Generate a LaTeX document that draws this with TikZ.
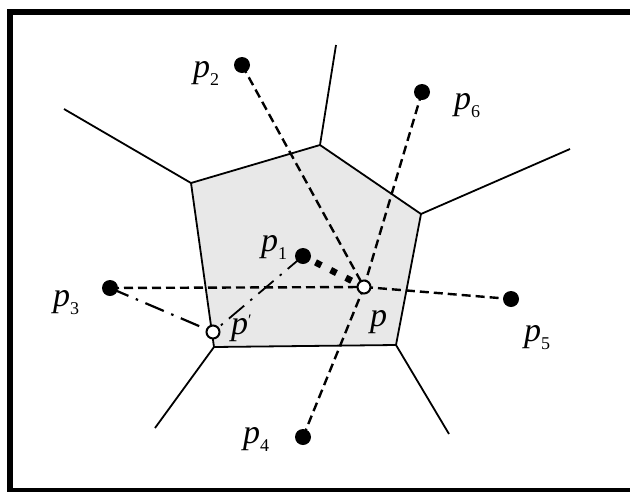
\documentclass[tikz,border=0pt]{standalone}
\usepackage{fontspec}
\setmainfont{Liberation Serif}
\newcommand\psub[1]{\raisebox{-8pt}{\fontsize{18}{18}\selectfont #1}}
\begin{document}
\begin{tikzpicture}[x=1pt,y=-1pt,
  vedge/.style={line width=1.8pt},
  dsh/.style={line width=2.4pt, dash pattern=on 9pt off 5pt},
  dshdot/.style={line width=2.2pt, dash pattern=on 20pt off 8pt on 2.5pt off 8pt},
  dotline/.style={line width=6.5pt, dash pattern=on 6.5pt off 10.5pt, dash phase=-14pt},
  site/.style={circle, fill=black, minimum size=16pt, inner sep=0pt},
  hollow/.style={circle, draw=black, fill=white, line width=2pt, minimum size=13pt, inner sep=0pt},
  lab/.style={anchor=base west, inner sep=0pt, font=\fontsize{34}{34}\selectfont}]
\useasboundingbox (0,0) rectangle (630,491);
\fill[white] (0,0) rectangle (630,491);
% frame
\draw[line width=6pt] (10,12) rectangle (640,491);
% Voronoi vertices and ray ends
\coordinate (v1) at (320,145);
\coordinate (v2) at (421,214);
\coordinate (v3) at (396,345);
\coordinate (v4) at (214,347);
\coordinate (v5) at (191,183);
\coordinate (r1) at (336,45);
\coordinate (r2) at (570,149);
\coordinate (r3) at (449,434);
\coordinate (r4) at (155,428);
\coordinate (r5) at (64,109);
% sites
\coordinate (P2) at (242,65);
\coordinate (P6) at (422,92);
\coordinate (P1) at (303,256);
\coordinate (P) at (364,287);
\coordinate (P3) at (110,288);
\coordinate (P5) at (511,299);
\coordinate (PP) at (213,332);
\coordinate (P4) at (303,437);
% cell
\fill[black!9] (v1) -- (v2) -- (v3) -- (v4) -- (v5) -- cycle;
\draw[vedge, line join=miter] (v1) -- (v2) -- (v3) -- (v4) -- (v5) -- cycle;
\draw[vedge] (v1) -- (r1);
\draw[vedge] (v2) -- (r2);
\draw[vedge] (v3) -- (r3);
\draw[vedge] (v4) -- (r4);
\draw[vedge] (v5) -- (r5);
% connectors
\draw[dsh] (P2) -- (P);
\draw[dsh] (P6) -- (P);
\draw[dsh] (P4) -- (P);
\draw[dsh] (P3) -- (P);
\draw[dsh] (P) -- (P5);
\draw[dotline] (P1) -- (P);
\draw[dshdot] (P3) -- (PP);
\draw[dshdot, line width=1.8pt] (P1) -- (PP);
% dots
\node[site] (p2) at (P2) {};
\node[site] (p6) at (P6) {};
\node[site] (p1) at (P1) {};
\node[site] (p3) at (P3) {};
\node[site] (p5) at (P5) {};
\node[site] (p4) at (P4) {};
\node[hollow] (p) at (P) {};
\node[hollow] (pp) at (PP) {};
% labels
\node[lab] (l2) at (193,77) {\textit{p}\psub{2}};
\node[lab] (l6) at (454,109) {\textit{p}\psub{6}};
\node[lab] (l1) at (261,251) {\textit{p}\psub{1}};
\node[lab] (l3) at (53,306) {\textit{p}\psub{3}};
\node[lab] (l5) at (524,341) {\textit{p}\psub{5}};
\node[lab] (l4) at (243,443) {\textit{p}\psub{4}};
\node[lab] (lp) at (370,326) {\textit{p}};
\node[lab] (lpp) at (231,334) {\textit{p}\raisebox{9pt}{\fontsize{16}{16}\selectfont\char"2032}};
\end{tikzpicture}
\end{document}
